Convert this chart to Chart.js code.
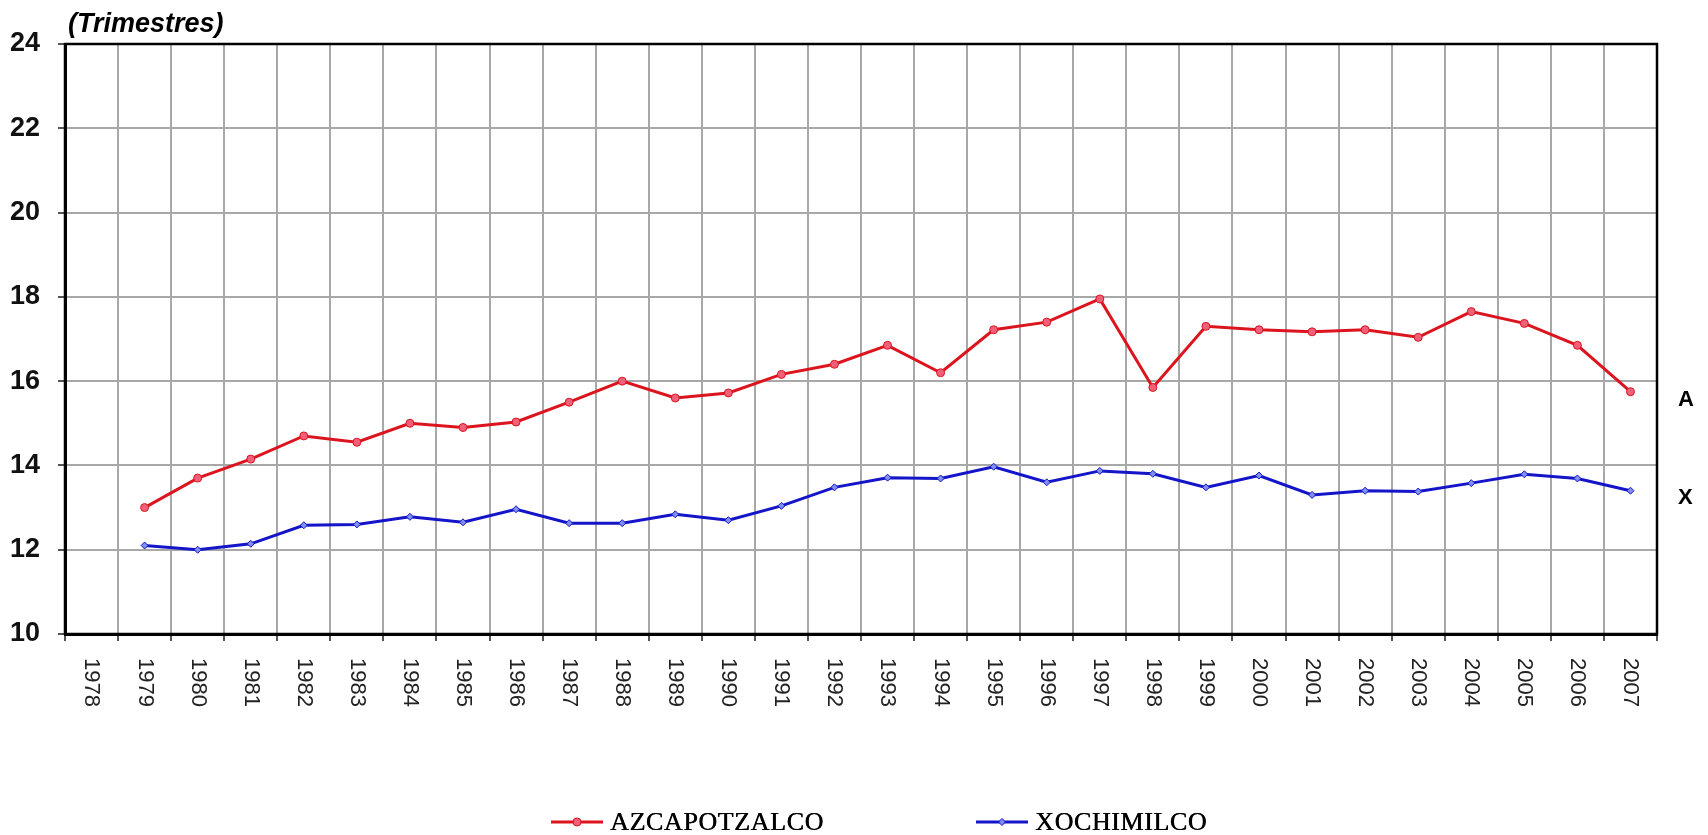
<!DOCTYPE html>
<html>
<head>
<meta charset="utf-8">
<title>Trimestres</title>
<script src="https://cdn.jsdelivr.net/npm/chart.js@4/dist/chart.umd.min.js"></script>
<style>
  html, body { margin: 0; padding: 0; background: #fff; }
  #wrap { position: relative; width: 1708px; height: 835px; }
</style>
</head>
<body>
<div id="wrap"><canvas id="chart" width="1708" height="835"></canvas></div>
<script>
const YEARS = ['1978', '1979', '1980', '1981', '1982', '1983', '1984', '1985', '1986', '1987',
    '1988', '1989', '1990', '1991', '1992', '1993', '1994', '1995', '1996', '1997',
    '1998', '1999', '2000', '2001', '2002', '2003', '2004', '2005', '2006', '2007'];

// 1978 has no value in the original
const AZCAPOTZALCO = [null, 13.0, 13.7, 14.15, 14.7, 14.55, 15.0, 14.9, 15.03, 15.5,
    16.0, 15.6, 15.72, 16.16, 16.4, 16.85, 16.2, 17.22, 17.4, 17.95,
    15.85, 17.3, 17.22, 17.17, 17.22, 17.04, 17.65, 17.37, 16.85, 15.75];

const XOCHIMILCO = [null, 12.1, 12.0, 12.14, 12.58, 12.6, 12.78, 12.65, 12.96, 12.63,
    12.63, 12.84, 12.7, 13.04, 13.48, 13.71, 13.69, 13.97, 13.6, 13.87,
    13.8, 13.48, 13.76, 13.3, 13.4, 13.38, 13.58, 13.79, 13.69, 13.4];

const Y_MIN = 10;
const Y_MAX = 24;
const Y_STEP = 2;

const RED = '#dc141e';
const BLUE = '#1414c8';

// Texts drawn around the plot: title, right-hand letters, legend, rotated years
const extras = {
    id: 'extras',
    afterDraw(chart) {
        const ctx = chart.ctx;
        const area = chart.chartArea;
        const xs = chart.scales.x;
        ctx.save();

        // frame around plot
        ctx.strokeStyle = '#000';
        ctx.lineWidth = 2.5;
        ctx.strokeRect(area.left, area.top, area.right - area.left, area.bottom - area.top);

        // year labels, reading top to bottom
        ctx.fillStyle = '#222';
        ctx.font = '22px "Liberation Sans Narrow", "Liberation Sans", Arial, sans-serif';
        ctx.textAlign = 'left';
        ctx.textBaseline = 'middle';
        YEARS.forEach((y, i) => {
            const px = xs.getPixelForTick(i);
            ctx.save();
            ctx.translate(px, area.bottom + 24);
            ctx.rotate(Math.PI / 2);
            ctx.fillText(y, 0, 0);
            ctx.restore();
        });

        // title
        ctx.fillStyle = '#000';
        ctx.font = 'italic bold 27px "Liberation Sans", Arial, sans-serif';
        ctx.textBaseline = 'alphabetic';
        ctx.fillText('(Trimestres)', 68, 32);

        // right side letters
        ctx.font = 'bold 22px "Liberation Sans", Arial, sans-serif';
        ctx.textBaseline = 'middle';
        ctx.fillText('A', 1678, 400);
        ctx.fillText('X', 1678, 498);

        // legend
        const items = [
            { label: 'AZCAPOTZALCO', x: 551, ds: chart.data.datasets[0] },
            { label: 'XOCHIMILCO', x: 976, ds: chart.data.datasets[1] }
        ];
        const ly = 822;
        items.forEach(it => {
            ctx.strokeStyle = it.ds.borderColor;
            ctx.lineWidth = 3;
            ctx.beginPath();
            ctx.moveTo(it.x, ly);
            ctx.lineTo(it.x + 52, ly);
            ctx.stroke();
            ctx.fillStyle = it.ds.pointBackgroundColor;
            ctx.strokeStyle = it.ds.pointBorderColor;
            ctx.lineWidth = 1;
            ctx.beginPath();
            if (it.ds.pointStyle === 'rectRot') {
                const r = 3.5;
                ctx.moveTo(it.x + 26, ly - r);
                ctx.lineTo(it.x + 26 + r, ly);
                ctx.lineTo(it.x + 26, ly + r);
                ctx.lineTo(it.x + 26 - r, ly);
                ctx.closePath();
            } else {
                ctx.arc(it.x + 26, ly, 4, 0, Math.PI * 2);
            }
            ctx.fill();
            ctx.stroke();

            ctx.fillStyle = '#000';
            ctx.font = '26px "Liberation Serif", "Times New Roman", serif';
            ctx.textAlign = 'left';
            ctx.textBaseline = 'middle';
            let tx = it.x + 59;
            for (const ch of it.label) {
                ctx.fillText(ch, tx, ly + 1);
                ctx.fillText(ch, tx + 0.5, ly + 1);
                tx += ctx.measureText(ch).width + 0.6;
            }
        });

        ctx.restore();
    }
};

const ctx = document.getElementById('chart').getContext('2d');
new Chart(ctx, {
    type: 'line',
    data: {
        labels: YEARS,
        datasets: [{
            label: 'AZCAPOTZALCO',
            data: AZCAPOTZALCO,
            borderColor: RED,
            borderWidth: 3,
            tension: 0,
            pointStyle: 'circle',
            pointRadius: 4,
            pointBackgroundColor: '#f0607a',
            pointBorderColor: RED,
            pointBorderWidth: 1,
        }, {
            label: 'XOCHIMILCO',
            data: XOCHIMILCO,
            borderColor: BLUE,
            borderWidth: 3,
            tension: 0,
            pointStyle: 'rectRot',
            pointRadius: 3.5,
            pointBackgroundColor: '#7f8ff0',
            pointBorderColor: BLUE,
            pointBorderWidth: 1,
        }]
    },
    options: {
        responsive: false,
        animation: false,
        layout: { padding: { top: 44, right: 51, bottom: 0, left: 0 } },
        plugins: {
            legend: { display: false },
            tooltip: { enabled: false }
        },
        scales: {
            x: {
                type: 'category',
                offset: true,
                grid: {
                    offset: true,
                    color: '#a8a8a8',
                    lineWidth: 2,
                    tickLength: 7,
                    tickColor: '#555'
                },
                border: { color: '#000', width: 3 },
                ticks: {
                    color: 'rgba(0,0,0,0)',
                    autoSkip: false,
                    maxRotation: 90,
                    minRotation: 90
                },
                afterFit: s => { s.height = 201; }
            },
            y: {
                min: Y_MIN,
                max: Y_MAX,
                grid: {
                    color: '#a8a8a8',
                    lineWidth: 2,
                    tickLength: 7,
                    tickColor: '#555'
                },
                border: { color: '#000', width: 3 },
                ticks: {
                    stepSize: Y_STEP,
                    color: '#111',
                    padding: 18,
                    font: { family: '"Liberation Sans", Arial, sans-serif', size: 27, weight: 'bold' }
                },
                afterFit: s => { s.width = 65; }
            }
        }
    },
    plugins: [extras]
});
</script>
</body>
</html>
